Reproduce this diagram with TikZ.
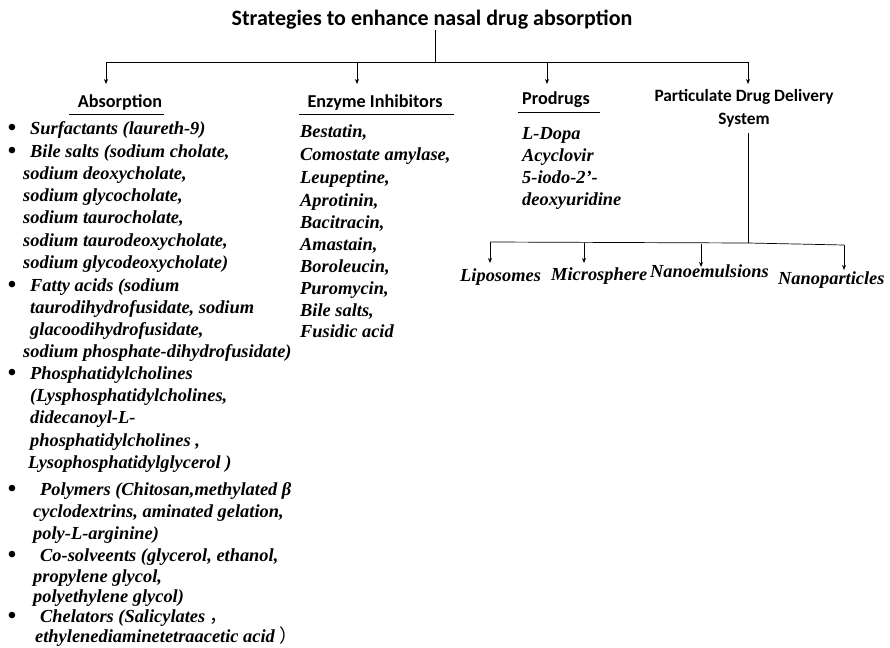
\documentclass[tikz,border=0pt]{standalone}
\usepackage{fontspec}
\setmainfont{Liberation Serif}
\newfontfamily\hfont{Carlito}
\newfontfamily\cjk{Noto Sans CJK SC}
\usetikzlibrary{arrows.meta}
\begin{document}
\begin{tikzpicture}[x=1pt,y=-1pt,
  ttl/.style={font=\hfont\bfseries\fontsize{22}{24}\selectfont, inner sep=0pt},
  head/.style={font=\hfont\bfseries\fontsize{18.2}{23}\selectfont, inner sep=0pt, align=center},
  itm/.style={font=\bfseries\itshape\fontsize{18.4}{22}\selectfont, anchor=west, inner sep=0pt, text height=13pt, text depth=4pt},
  bul/.style={font=\bfseries\fontsize{24}{24}\selectfont, inner sep=0pt},
  conn/.style={-{Stealth[length=5pt,width=4pt]}, line width=0.7pt},
  ln/.style={line width=0.7pt},
  uline/.style={line width=1pt}]
\useasboundingbox (0,0) rectangle (890,647);
% title
\node[ttl] (title) at (432,20) {Strategies to enhance nasal drug absorption};
\coordinate (t0) at (435,30);
\coordinate (t1) at (435,62);
\coordinate (bl) at (106,62);
\coordinate (br) at (748,62);
\draw[ln] (t0) -- (t1);
\draw[ln] (bl) -- (br);
% headings
\node[head] (hab) at (120,103) {Absorption};
\node[head] (hen) at (375,103) {Enzyme Inhibitors};
\node[head] (hpr) at (556,100) {Prodrugs};
\node[head, font=\hfont\bfseries\fontsize{17.3}{23}\selectfont] (hpa) at (744,108.5) {Particulate Drug Delivery\\System};
\coordinate (a1) at (106,84);
\coordinate (a2) at (357,84);
\coordinate (a3) at (547,84);
\coordinate (a4) at (748,84);
\draw[conn] (bl) -- (a1);
\draw[conn] (357,62) -- (a2);
\draw[conn] (547,62) -- (a3);
\draw[conn] (br) -- (a4);
% underlines
\coordinate (u1a) at (69,115); \coordinate (u1b) at (164,115);
\coordinate (u2a) at (299,115); \coordinate (u2b) at (454,115);
\coordinate (u3a) at (518,113); \coordinate (u3b) at (600,113);
\draw[uline] (u1a) -- (u1b);
\draw[uline] (u2a) -- (u2b);
\draw[uline] (u3a) -- (u3b);
% absorption list
\foreach \xx/\yy/\tt [count=\i] in {
 30/130/{Surfactants (laureth-9)},
 30/153/{Bile salts (sodium cholate,},
 23/175/{sodium deoxycholate,},
 23/197/{sodium glycocholate,},
 23/219/{sodium taurocholate,},
 23/242/{sodium taurodeoxycholate,},
 23/264/{sodium glycodeoxycholate)},
 30/287/{Fatty acids (sodium},
 30/309/{taurodihydrofusidate, sodium},
 30/331/{glacoodihydrofusidate,},
 23/353/{sodium phosphate-dihydrofusidate)},
 30/375/{Phosphatidylcholines},
 30/397/{(Lysphosphatidylcholines,},
 30/419/{didecanoyl-L-},
 30/442/{phosphatidylcholines ,},
 28/464/{Lysophosphatidylglycerol )},
 40/491/{Polymers (Chitosan,methylated β},
 33/513/{cyclodextrins, aminated gelation,},
 33/535/{poly-L-arginine)},
 40/557/{Co-solveents (glycerol, ethanol,},
 33/578/{propylene glycol,},
 33/598/{polyethylene glycol)},
 40/618/{Chelators (Salicylates {\cjk\mdseries\upshape ，}},
 35/638/{ethylenediaminetetraacetic acid {\cjk\mdseries\upshape ）}}}
 { \node[itm] (ab\i) at (\xx,\yy) {\tt}; }
\foreach \yy [count=\i] in {130,153,287,375,491,557,618}
 { \node[bul] (bu\i) at (12,\yy) {•}; }
% enzyme list
\foreach \yy/\tt [count=\i] in {
 133/{Bestatin,}, 156/{Comostate amylase,}, 179/{Leupeptine,}, 202/{Aprotinin,},
 224/{Bacitracin,}, 246/{Amastain,}, 268/{Boroleucin,}, 290/{Puromycin,},
 312/{Bile salts,}, 333/{Fusidic acid}}
 { \node[itm] (en\i) at (300,\yy) {\tt}; }
% prodrug list
\foreach \yy/\tt [count=\i] in {
 135/{L-Dopa}, 157/{Acyclovir}, 179/{5-iodo-2’-}, 201/{deoxyuridine}}
 { \node[itm] (pr\i) at (522,\yy) {\tt}; }
% particulate branches
\coordinate (p0) at (748,133);
\coordinate (p1) at (748,243);
\coordinate (pl) at (490,242);
\coordinate (pr) at (844,245);
\draw[ln] (p0) -- (p1);
\draw[ln] (pl) -- (p1) -- (pr);
\node[itm] (lip) at (460,277) {Liposomes};
\node[itm] (mic) at (551,276) {Microsphere};
\node[itm] (nem) at (650,273) {Nanoemulsions};
\node[itm] (npa) at (778,280) {Nanoparticles};
\draw[conn] (pl) -- (490,263);
\draw[conn] (584,242.5) -- (584,263);
\draw[conn] (701,243.5) -- (701,267);
\draw[conn] (pr) -- (844,270);
\end{tikzpicture}
\end{document}
